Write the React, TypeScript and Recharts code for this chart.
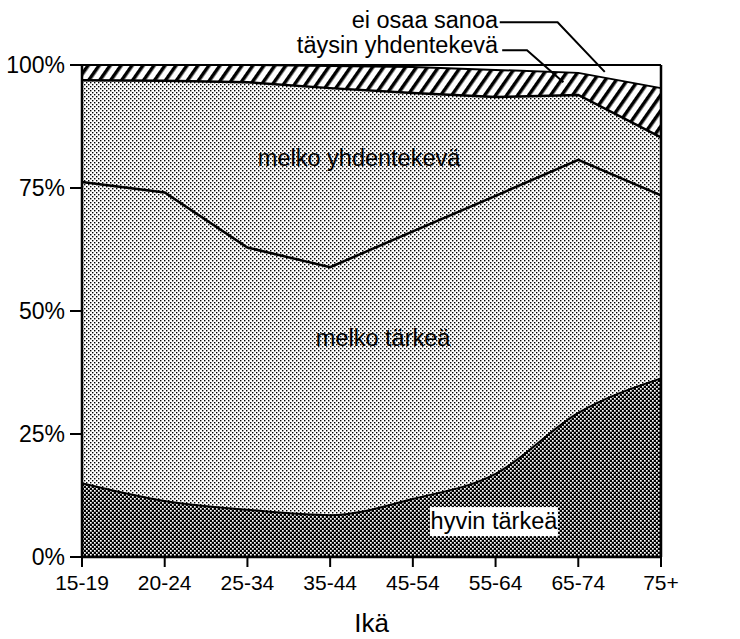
import React from 'react';
import { AreaChart, Area, XAxis, YAxis, ReferenceLine } from 'recharts';

const ages = ['15-19', '20-24', '25-34', '35-44', '45-54', '55-64', '65-74', '75+'];
const hyvinTarkea = [15, 11.4, 9.6, 8.5, 11.8, 16.9, 29.3, 36.3];
const melkoTarkea = [61.2, 62.7, 53.3, 50.4, 54.4, 56.5, 51.4, 37.2];
const melkoYhdentekeva = [20.7, 22.7, 33.6, 36.4, 28.1, 20.1, 13.2, 11.8];
const taysinYhdentekeva = [3.1, 3.2, 3.5, 4.5, 5.3, 5.5, 4.5, 10.0];
const eiOsaaSanoa = [0, 0, 0, 0.2, 0.4, 1.0, 1.6, 4.7];
const yTicks = [0, 25, 50, 75, 100];

const W = 740;
const H = 639;
const FONT = '"Liberation Sans", Arial, Helvetica, sans-serif';
// plot box
const L = 82;
const R = 661;
const T = 65;
const B = 557;

// the layers are drawn as cumulative areas, top one first
const data = ages.map((age, i) => {
  const a = hyvinTarkea[i];
  const b = a + melkoTarkea[i];
  const c = b + melkoYhdentekeva[i];
  const d = c + taysinYhdentekeva[i];
  return { age, hyvin: a, melkoT: b, melkoY: c, taysin: d, ei: d + eiOsaaSanoa[i] };
});

const xAt = (i: number) => L + (i * (R - L)) / (ages.length - 1);
const yAt = (v: number) => B - (v / 100) * (B - T);

const xTick = { fill: '#000', fontSize: 21, fontFamily: FONT };
const yTick = { fill: '#000', fontSize: 23, fontFamily: FONT };

const Notes = () => (
  <svg width={W} height={H} style={{ position: 'absolute', left: 0, top: 0, pointerEvents: 'none' }}>
    <g fontFamily={FONT} fontSize={23.5} fill="#000">
      <text x={xAt(3.35)} y={yAt(81.1)} textAnchor="middle" dominantBaseline="central">melko yhdentekevä</text>
      <text x={xAt(3.64)} y={yAt(44.5)} textAnchor="middle" dominantBaseline="central">melko tärkeä</text>
      <rect x={xAt(4.98) - 64} y={yAt(7.3) - 14} width={128} height={29} fill="#fff" />
      <text x={xAt(4.98)} y={yAt(7.3)} textAnchor="middle" dominantBaseline="central">hyvin tärkeä</text>
      <text x={xAt(5.03)} y={yAt(109.1)} textAnchor="end" dominantBaseline="central">ei osaa sanoa</text>
      <text x={xAt(5.03)} y={yAt(104.1)} textAnchor="end" dominantBaseline="central">täysin yhdentekevä</text>
    </g>
    <polyline
      points={`${xAt(5.05)},${yAt(108.7)} ${xAt(5.75)},${yAt(108.7)} ${xAt(6.32)},${yAt(98.6)}`}
      fill="none" stroke="#000" strokeWidth={2}
    />
    <polyline
      points={`${xAt(5.08)},${yAt(103)} ${xAt(5.38)},${yAt(103)} ${xAt(5.82)},${yAt(96.5)}`}
      fill="none" stroke="#000" strokeWidth={2}
    />
  </svg>
);

export default function App() {
  return (
    <div style={{ position: 'absolute', left: 0, top: 0, width: W, height: H, background: '#fff' }}>
      <AreaChart width={W} height={H} data={data} margin={{ top: T, right: 0, bottom: 0, left: 0 }}>
        <defs>
          <pattern id="light" width={4} height={4} patternUnits="userSpaceOnUse">
            <rect width={4} height={4} fill="#fff" />
            <rect x={0} y={0} width={1.4} height={1.4} fill="#000" />
            <rect x={2} y={2} width={1.4} height={1.4} fill="#000" />
          </pattern>
          <pattern id="dark" width={4} height={4} patternUnits="userSpaceOnUse">
            <rect width={4} height={4} fill="#000" />
            <rect x={0} y={0} width={1.7} height={1.7} fill="#fff" />
            <rect x={2} y={2} width={1.7} height={1.7} fill="#fff" />
          </pattern>
          <pattern id="hatch" width={9} height={9} patternUnits="userSpaceOnUse" patternTransform="rotate(35)">
            <rect width={9} height={9} fill="#fff" />
            <rect x={0} y={0} width={3.5} height={9} fill="#000" />
          </pattern>
        </defs>
        <XAxis
          dataKey="age"
          height={H - B}
          tick={xTick}
          tickSize={10}
          tickMargin={8}
          axisLine={{ stroke: '#000', strokeWidth: 2.5 }}
          tickLine={{ stroke: '#000', strokeWidth: 2 }}
          interval={0}
          label={{ value: 'Ikä', position: 'insideBottom', offset: 7, fill: '#000', fontSize: 26, fontFamily: FONT }}
        />
        <YAxis
          yAxisId="l"
          width={L}
          domain={[0, 100]}
          ticks={yTicks}
          tickFormatter={(v) => `${v}%`}
          tick={yTick}
          tickSize={12}
          tickMargin={5}
          axisLine={{ stroke: '#000', strokeWidth: 2.5 }}
          tickLine={{ stroke: '#000', strokeWidth: 2 }}
        />
        <YAxis
          yAxisId="r"
          orientation="right"
          width={W - R}
          domain={[0, 100]}
          ticks={yTicks}
          tickFormatter={(v) => `${v}%`}
          tick={yTick}
          tickSize={10}
          tickMargin={8}
          axisLine={{ stroke: '#000', strokeWidth: 2.5 }}
          tickLine={{ stroke: '#000', strokeWidth: 2 }}
        />
        <Area yAxisId="l" dataKey="ei" type="linear" fill="#fff" fillOpacity={1} stroke="#000" strokeWidth={2} isAnimationActive={false} />
        <Area yAxisId="l" dataKey="taysin" type="linear" fill="url(#hatch)" fillOpacity={1} stroke="#000" strokeWidth={2} isAnimationActive={false} />
        <Area yAxisId="l" dataKey="melkoY" type="linear" fill="url(#light)" fillOpacity={1} stroke="#000" strokeWidth={2.5} isAnimationActive={false} />
        <Area yAxisId="l" dataKey="melkoT" type="linear" fill="url(#light)" fillOpacity={1} stroke="#000" strokeWidth={2.5} isAnimationActive={false} />
        <Area yAxisId="l" dataKey="hyvin" type="monotone" fill="url(#dark)" fillOpacity={1} stroke="#000" strokeWidth={2} isAnimationActive={false} />
        <ReferenceLine yAxisId="l" y={100} stroke="#000" strokeWidth={2} />
      </AreaChart>
      <Notes />
    </div>
  );
}
